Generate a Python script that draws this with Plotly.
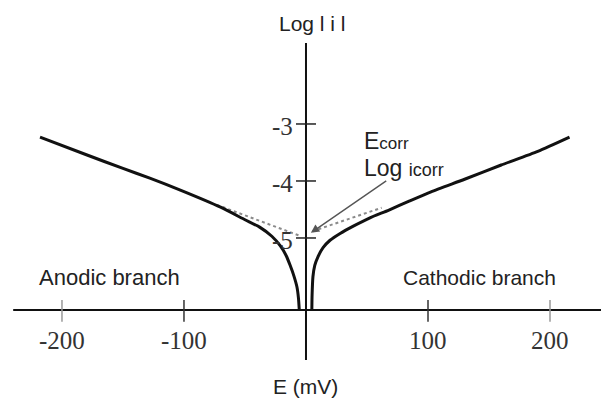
import plotly.graph_objects as go

# Polarisation curve: potential E (mV) vs log|i|
E_anodic = [-218, -180, -150, -128, -103, -70, -50, -38, -28, -21, -16, -13, -10, -7.4, -6.2, -5.5]
logi_anodic = [-3.23, -3.54, -3.78, -3.95, -4.16, -4.46, -4.68, -4.81, -4.97, -5.14, -5.32,
               -5.48, -5.66, -5.86, -6.05, -6.26]

E_cathodic = [4.8, 5.0, 5.7, 7.2, 9.8, 14, 19.7, 28, 38, 52, 68, 85, 102.5, 130, 160, 190, 216]
logi_cathodic = [-6.26, -6.0, -5.68, -5.48, -5.33, -5.17, -5.04, -4.92, -4.80, -4.65, -4.51,
                 -4.35, -4.19, -3.97, -3.72, -3.48, -3.23]

# Tafel extrapolations meeting at (Ecorr, log icorr)
E_tafel_a = [-73, -4]
logi_tafel_a = [-4.42, -4.97]
E_tafel_c = [5.5, 62]
logi_tafel_c = [-4.88, -4.47]

E_corr = 0
logi_corr = -5

x_ticks = [-200, -100, 100, 200]
x_tick_labels = ["-200", "-100", "100", "200"]
y_ticks = [-3, -4, -5]
y_tick_labels = ["-3", "-4", "-5"]

# Axis geometry (data units)
x_axis_level = -6.263
x_axis_from, x_axis_to = -240, 245
y_axis_from, y_axis_to = -7.14, -1.58

fig = go.Figure()

fig.add_trace(go.Scatter(x=E_tafel_a, y=logi_tafel_a, mode="lines",
                         line=dict(color="#8a8a8a", width=2, dash="dot")))
fig.add_trace(go.Scatter(x=E_tafel_c, y=logi_tafel_c, mode="lines",
                         line=dict(color="#8a8a8a", width=2, dash="dot")))
fig.add_trace(go.Scatter(x=E_anodic, y=logi_anodic, mode="lines",
                         line=dict(color="#111111", width=3, shape="spline", smoothing=0.6)))
fig.add_trace(go.Scatter(x=E_cathodic, y=logi_cathodic, mode="lines",
                         line=dict(color="#111111", width=3, shape="spline", smoothing=0.6)))

shapes = []
# hand-drawn style axes crossing at E = 0
shapes.append(dict(type="line", xref="x", yref="y", x0=x_axis_from, x1=x_axis_to,
                   y0=x_axis_level, y1=x_axis_level, line=dict(color="#111111", width=2)))
shapes.append(dict(type="line", xref="x", yref="y", x0=0, x1=0,
                   y0=y_axis_from, y1=y_axis_to, line=dict(color="#111111", width=2)))
for v in y_ticks:
    shapes.append(dict(type="line", xref="x", yref="y", x0=-8.2, x1=8.2, y0=v, y1=v,
                       line=dict(color="#222222", width=1.5)))
for e in x_ticks:
    col = "#999999" if abs(e) == 200 else "#333333"
    shapes.append(dict(type="line", xref="x", yref="y", x0=e, x1=e, y0=-6.09, y1=-6.47,
                       line=dict(color=col, width=1.5)))

annotations = []
serif = "Liberation Serif, Times New Roman, serif"
sans = "Liberation Sans, Arial, sans-serif"
for e, lab in zip(x_ticks, x_tick_labels):
    annotations.append(dict(x=e, y=-6.79, xref="x", yref="y", text=lab, showarrow=False,
                            font=dict(family=serif, size=25, color="#333333")))
for v, lab in zip(y_ticks, y_tick_labels):
    annotations.append(dict(x=-9, y=v - 0.04, xref="x", yref="y", text=lab, showarrow=False,
                            xanchor="right", font=dict(family=serif, size=25, color="#333333")))

annotations += [
    dict(x=0, y=-7.61, xref="x", yref="y", text="E (mV)", showarrow=False,
         font=dict(family=sans, size=21, color="#222222")),
    dict(x=-161, y=-5.7, xref="x", yref="y", text="Anodic branch", showarrow=False,
         font=dict(family=sans, size=22, color="#222222")),
    dict(x=142, y=-5.7, xref="x", yref="y", text="Cathodic branch", showarrow=False,
         font=dict(family=sans, size=21, color="#222222")),
    dict(x=5, y=-1.23, xref="x", yref="y", text="Log l i l", showarrow=False,
         font=dict(family=sans, size=21, color="#222222")),
    dict(x=46, y=-3.3, xref="x", yref="y", xanchor="left",
         text="E<span style='font-size:17px'>corr</span>", showarrow=False,
         font=dict(family=sans, size=23, color="#222222")),
    dict(x=46, y=-3.77, xref="x", yref="y", xanchor="left",
         text="Log <span style='font-size:18px'>icorr</span>", showarrow=False,
         font=dict(family=sans, size=23, color="#222222")),
    dict(x=E_corr + 4, y=logi_corr + 0.09, xref="x", yref="y",
         ax=67, ay=-3.98, axref="x", ayref="y", text="", showarrow=True,
         arrowhead=2, arrowsize=1.2, arrowwidth=1.4, arrowcolor="#555555"),
]

fig.update_layout(
    width=601, height=401,
    margin=dict(l=0, r=0, t=0, b=0),
    paper_bgcolor="white", plot_bgcolor="white",
    showlegend=False,
    xaxis=dict(range=[-250.8, 241.8], visible=False),
    yaxis=dict(range=[-7.86, -0.825], visible=False),
    shapes=shapes,
    annotations=annotations,
)

fig.write_html("out.html")
